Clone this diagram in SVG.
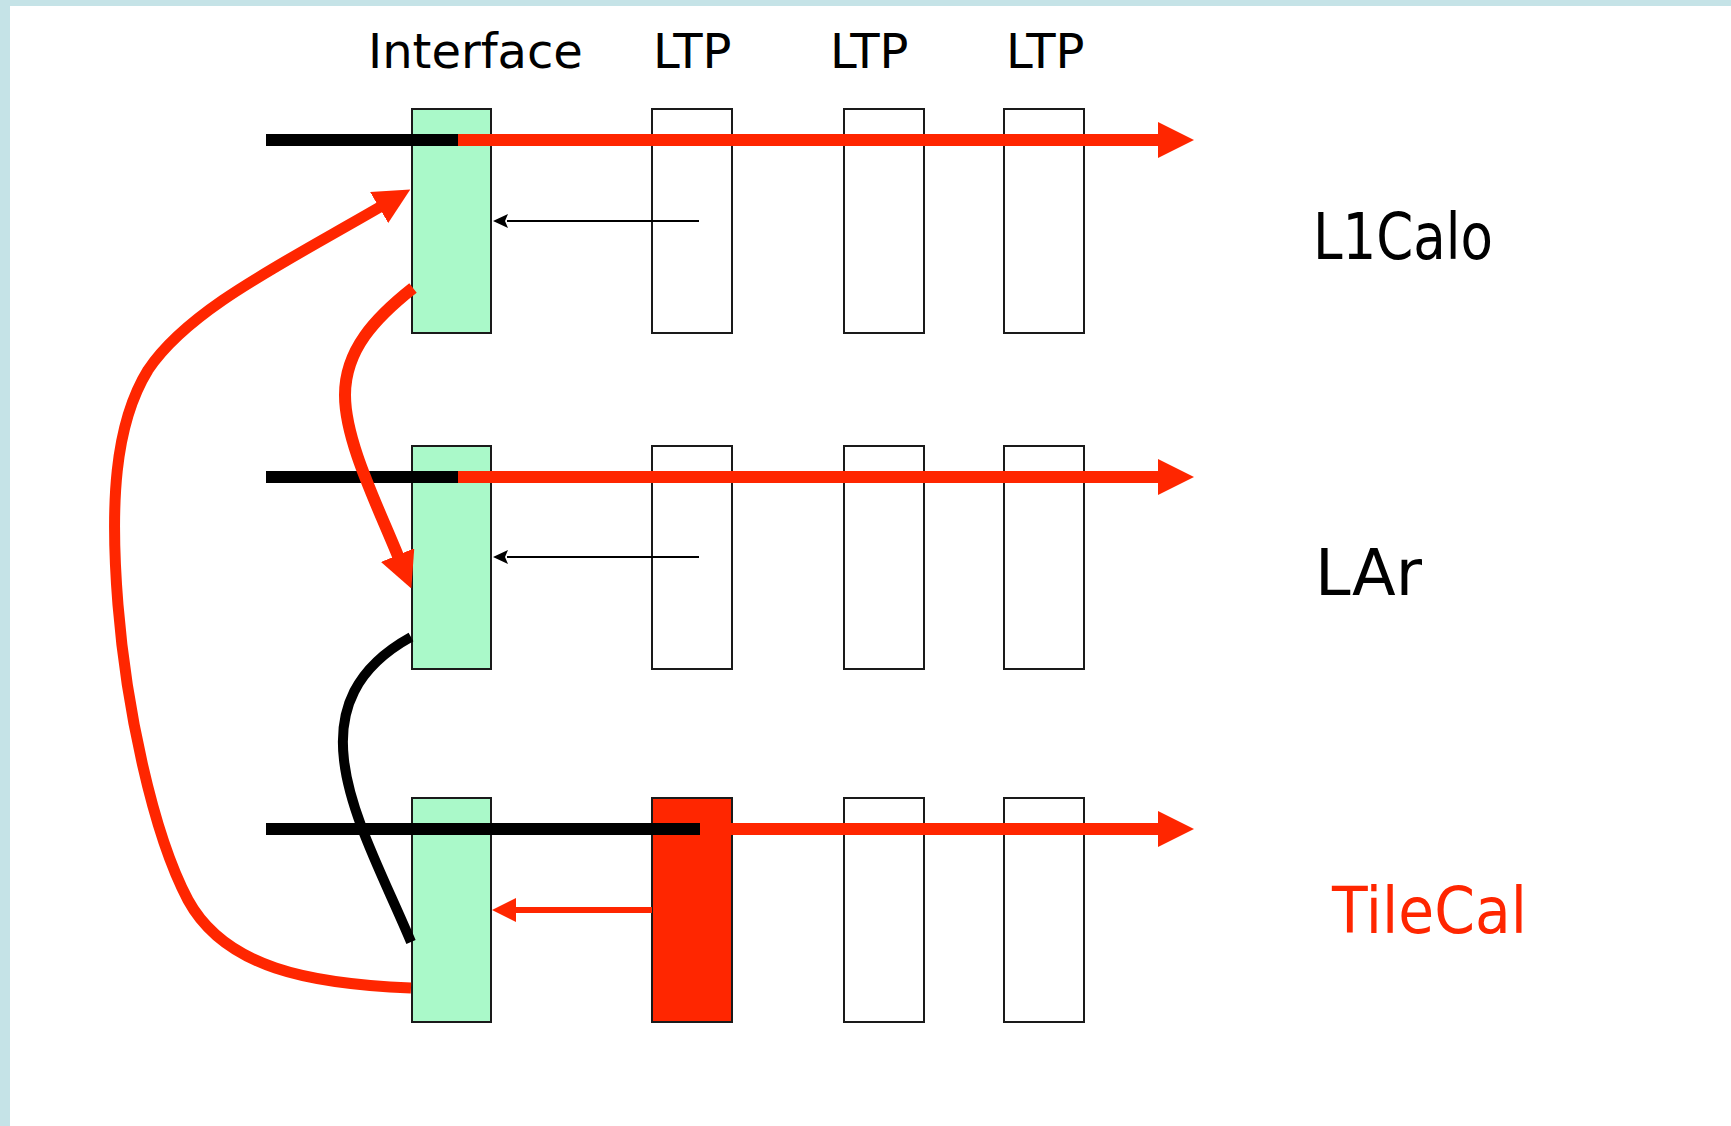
<svg xmlns="http://www.w3.org/2000/svg" width="1731" height="1126" viewBox="0 0 1731 1126">
  <style>
    .board { stroke: #1a1a1a; stroke-width: 2; }
    .iface { fill: #aaf9c9; }
    .ltp { fill: #ffffff; }
    .ltp-hot { fill: #ff2600; }
    .head { font-family: "DejaVu Sans", "Liberation Sans", sans-serif; font-size: 48px; fill: #000; }
    .sys { font-family: "DejaVu Sans", "Liberation Sans", sans-serif; font-size: 64px; fill: #000; }
    .sys-hot { fill: #ff2600; }
    .bus { fill: none; stroke-width: 12; stroke-linecap: butt; }
    .k { stroke: #000; }
    .r { stroke: #ff2600; }
  </style>
  <defs>
    <marker id="bigRed" markerUnits="userSpaceOnUse" viewBox="0 0 36 36" markerWidth="36" markerHeight="36" refX="1" refY="18" orient="auto">
      <path d="M0,0 L36,18 L0,36 Z" fill="#ff2600"/>
    </marker>
    <marker id="midRed" markerUnits="userSpaceOnUse" viewBox="0 0 24 24" markerWidth="24" markerHeight="24" refX="1" refY="12" orient="auto">
      <path d="M0,0 L24,12 L0,24 Z" fill="#ff2600"/>
    </marker>
    <marker id="thinBlack" markerUnits="userSpaceOnUse" viewBox="0 0 15 14" markerWidth="15" markerHeight="14" refX="1" refY="7" orient="auto">
      <path d="M0,0 L15,7 L0,14 L3,7 Z" fill="#000"/>
    </marker>
  </defs>

  <!-- page and frame -->
  <rect x="0" y="0" width="1731" height="1126" fill="#ffffff"/>
  <rect x="0" y="0" width="1731" height="6" fill="#c5e3e7"/>
  <rect x="0" y="0" width="10" height="1126" fill="#c5e3e7"/>

  <!-- column headings -->
  <g id="headings">
    <text class="head" x="368" y="68">Interface</text>
    <text class="head" x="653" y="68">LTP</text>
    <text class="head" x="830" y="68">LTP</text>
    <text class="head" x="1006" y="68">LTP</text>
  </g>

  <!-- L1Calo row -->
  <g id="l1calo-interface"><rect class="board iface" x="412" y="109" width="79" height="224"/></g>
  <g id="l1calo-ltp1"><rect class="board ltp" x="652" y="109" width="80" height="224"/></g>
  <g id="l1calo-ltp2"><rect class="board ltp" x="844" y="109" width="80" height="224"/></g>
  <g id="l1calo-ltp3"><rect class="board ltp" x="1004" y="109" width="80" height="224"/></g>

  <!-- LAr row -->
  <g id="lar-interface"><rect class="board iface" x="412" y="446" width="79" height="223"/></g>
  <g id="lar-ltp1"><rect class="board ltp" x="652" y="446" width="80" height="223"/></g>
  <g id="lar-ltp2"><rect class="board ltp" x="844" y="446" width="80" height="223"/></g>
  <g id="lar-ltp3"><rect class="board ltp" x="1004" y="446" width="80" height="223"/></g>

  <!-- TileCal row -->
  <g id="tile-interface"><rect class="board iface" x="412" y="798" width="79" height="224"/></g>
  <g id="tile-ltp1"><rect class="board ltp-hot" x="652" y="798" width="80" height="224"/></g>
  <g id="tile-ltp2"><rect class="board ltp" x="844" y="798" width="80" height="224"/></g>
  <g id="tile-ltp3"><rect class="board ltp" x="1004" y="798" width="80" height="224"/></g>

  <!-- system labels -->
  <g id="label-l1calo"><text class="sys" x="1313" y="259" textLength="180" lengthAdjust="spacingAndGlyphs">L1Calo</text></g>
  <g id="label-lar"><text class="sys" x="1315" y="595" textLength="107" lengthAdjust="spacingAndGlyphs">LAr</text></g>
  <g id="label-tilecal"><text class="sys sys-hot" x="1332" y="933" textLength="195" lengthAdjust="spacingAndGlyphs">TileCal</text></g>

  <g id="connectors">
    <!-- L1Calo bus -->
    <line class="bus k" x1="266" y1="140" x2="459" y2="140"/>
    <line class="bus r" x1="458" y1="140" x2="1159" y2="140" marker-end="url(#bigRed)"/>
    <!-- LAr bus -->
    <line class="bus k" x1="266" y1="477" x2="459" y2="477"/>
    <line class="bus r" x1="458" y1="477" x2="1159" y2="477" marker-end="url(#bigRed)"/>
    <!-- TileCal bus -->
    <line class="bus r" x1="699" y1="829" x2="1159" y2="829" marker-end="url(#bigRed)"/>
    <line class="bus k" x1="266" y1="829" x2="700" y2="829"/>

    <!-- LTP back to interface -->
    <line x1="699" y1="221" x2="507" y2="221" stroke="#000" stroke-width="2" marker-end="url(#thinBlack)"/>
    <line x1="699" y1="557" x2="507" y2="557" stroke="#000" stroke-width="2" marker-end="url(#thinBlack)"/>
    <line x1="652" y1="910" x2="515" y2="910" stroke="#ff2600" stroke-width="6" marker-end="url(#midRed)"/>

    <!-- TileCal interface loops up to L1Calo interface -->
    <path d="M411,988 C310,984 225,968 188,900 C152,832 126,705 118,605 C110,505 114,425 148,370 C188,310 280,265 380,207"
          fill="none" stroke="#ff2600" stroke-width="11" marker-end="url(#bigRed)"/>
    <!-- L1Calo interface down to LAr interface -->
    <path d="M413,288 C375,318 345,350 345,395 C345,440 375,500 398,556"
          fill="none" stroke="#ff2600" stroke-width="12" marker-end="url(#bigRed)"/>
    <!-- LAr interface to TileCal interface -->
    <path d="M411,637 C355,668 338,710 344,760 C350,815 385,880 411,942"
          fill="none" stroke="#000" stroke-width="10"/>
  </g>
</svg>
